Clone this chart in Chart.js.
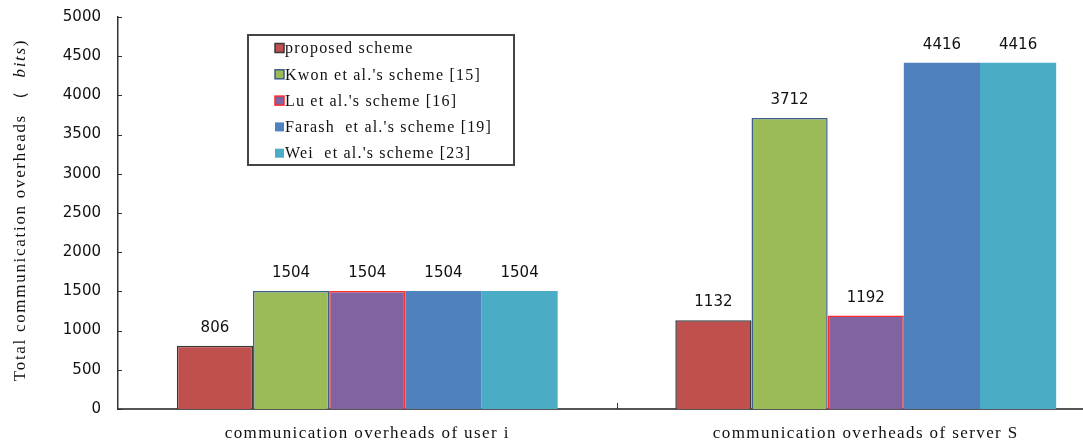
<!DOCTYPE html>
<html>
<head>
<meta charset="utf-8">
<script src="https://cdn.jsdelivr.net/npm/chart.js@4"></script>
<style>
  html, body { margin: 0; padding: 0; background: #fff; overflow: hidden; }
  #wrap { width: 1120px; height: 448px; position: relative; }
</style>
</head>
<body>
<div id="wrap"><canvas id="overheadChart" width="1120" height="448"></canvas></div>
<script>
const categories = ["communication overheads of user i", "communication overheads of server S"];
const seriesNames = [
  "proposed scheme",
  "Kwon et al.'s scheme [15]",
  "Lu et al.'s scheme [16]",
  "Farash  et al.'s scheme [19]",
  "Wei  et al.'s scheme [23]",
];
const proposedValues = [806, 1132];
const kwonValues = [1504, 3712];
const luValues = [1504, 1192];
const farashValues = [1504, 4416];
const weiValues = [1504, 4416];
const yTicks = [0, 500, 1000, 1500, 2000, 2500, 3000, 3500, 4000, 4500, 5000];

const fills = ["#C0504D", "#9BBB59", "#8064A2", "#4F81BD", "#4BACC6"];
const edges = ["#3a3a3a", "#3f5f86", "#ff2a2a", "#4F81BD", "#4BACC6"];
const edgeWidths = [1.5, 1.5, 1.5, 0, 0];
const numFont = "15px 'DejaVu Sans'";
const serifFont = "16px 'Liberation Serif'";

// value labels above each bar
const valueLabels = {
  id: "valueLabels",
  afterDatasetsDraw(chart) {
    const ctx = chart.ctx;
    ctx.save();
    ctx.font = numFont;
    ctx.fillStyle = "#111";
    ctx.textAlign = "center";
    ctx.textBaseline = "alphabetic";
    chart.data.datasets.forEach((ds, i) => {
      chart.getDatasetMeta(i).data.forEach((bar, j) => {
        ctx.fillText(String(ds.data[j]), bar.x, bar.y - 14);
      });
    });
    ctx.restore();
  },
};

// inward tick marks, category labels, rotated title and boxed legend
const decorations = {
  id: "decorations",
  afterDraw(chart) {
    const ctx = chart.ctx;
    const area = chart.chartArea;
    const y = chart.scales.y;
    const x = chart.scales.x;
    ctx.save();
    ctx.strokeStyle = "#333";
    ctx.lineWidth = 1;
    yTicks.forEach((v) => {
      const py = Math.round(y.getPixelForValue(v)) + 0.5;
      ctx.beginPath();
      ctx.moveTo(area.left, py);
      ctx.lineTo(area.left + 4, py);
      ctx.stroke();
    });
    const mid = Math.round((x.getPixelForValue(0) + x.getPixelForValue(1)) / 2) + 0.5;
    ctx.beginPath();
    ctx.moveTo(mid, area.bottom);
    ctx.lineTo(mid, area.bottom - 6);
    ctx.stroke();

    // category labels
    ctx.fillStyle = "#111";
    ctx.font = "17px 'Liberation Serif'";
    ctx.letterSpacing = "1.4px";
    ctx.textAlign = "center";
    ctx.textBaseline = "middle";
    categories.forEach((c, i) => {
      ctx.fillText(c, x.getPixelForValue(i), area.bottom + 25);
    });

    // y axis title
    ctx.textAlign = "left";
    ctx.letterSpacing = "1.7px";
    ctx.translate(21, (area.top + area.bottom) / 2 - 3);
    ctx.rotate(-Math.PI / 2);
    const titleFont = "17px 'Liberation Serif'";
    const partA = "Total communication overheads \uFF08  ";
    const partB = "bits";
    const partC = ")";
    ctx.font = titleFont;
    const wA = ctx.measureText(partA).width;
    const wC = ctx.measureText(partC).width;
    ctx.font = "italic " + titleFont;
    const wB = ctx.measureText(partB).width;
    let sx = -(wA + wB + wC) / 2;
    ctx.font = titleFont;
    ctx.fillText(partA, sx, 0);
    ctx.font = "italic " + titleFont;
    ctx.fillText(partB, sx + wA, 0);
    ctx.font = titleFont;
    ctx.fillText(partC, sx + wA + wB, 0);
    ctx.restore();

    // legend box
    ctx.save();
    const lx = area.left + 130, ly = area.top + 18, lw = 266, lh = 130;
    ctx.strokeStyle = "#444";
    ctx.lineWidth = 2;
    ctx.strokeRect(lx, ly, lw, lh);
    ctx.font = serifFont;
    ctx.letterSpacing = "1.2px";
    ctx.textBaseline = "middle";
    chart.data.datasets.forEach((ds, i) => {
      const ry = ly + 13 + i * 26.3;
      ctx.fillStyle = ds.backgroundColor;
      ctx.fillRect(lx + 27, ry - 4.5, 9, 9);
      if (ds.borderWidth > 0) {
        ctx.strokeStyle = ds.borderColor;
        ctx.lineWidth = 1.5;
        ctx.strokeRect(lx + 27, ry - 4.5, 9, 9);
      }
      ctx.fillStyle = "#111";
      ctx.fillText(ds.label, lx + 37, ry + 1);
    });
    ctx.restore();
  },
};

const seriesValues = [proposedValues, kwonValues, luValues, farashValues, weiValues];

new Chart(document.getElementById("overheadChart").getContext("2d"), {
  type: "bar",
  data: {
    labels: categories,
    datasets: seriesNames.map((name, i) => ({
      label: name,
      data: seriesValues[i],
      backgroundColor: fills[i],
      borderColor: edges[i],
      borderWidth: edgeWidths[i],
      categoryPercentage: 0.764,
      barPercentage: 1.0,
    })),
  },
  options: {
    responsive: false,
    animation: false,
    layout: { padding: { top: 17, right: 5, left: 0, bottom: 0 } },
    plugins: {
      legend: { display: false },
      tooltip: { enabled: false },
    },
    scales: {
      x: {
        grid: { display: false, drawTicks: false },
        border: { display: true, color: "#555", width: 2 },
        ticks: { display: false },
        afterFit(scale) {
          scale.height = 39;
          scale.paddingLeft = 0;
          scale.paddingRight = 0;
        },
      },
      y: {
        min: 0,
        max: 5000,
        afterBuildTicks(scale) { scale.ticks = yTicks.map((v) => ({ value: v })); },
        grid: { display: false, drawTicks: false },
        border: { display: true, color: "#333", width: 1.5 },
        ticks: {
          color: "#111",
          font: { family: "DejaVu Sans", size: 15 },
          padding: 17,
          callback: (v) => String(v),
        },
        afterFit(scale) {
          scale.width = 118;
          scale.paddingTop = 0;
          scale.paddingBottom = 0;
        },
      },
    },
  },
  plugins: [valueLabels, decorations],
});
</script>
</body>
</html>
